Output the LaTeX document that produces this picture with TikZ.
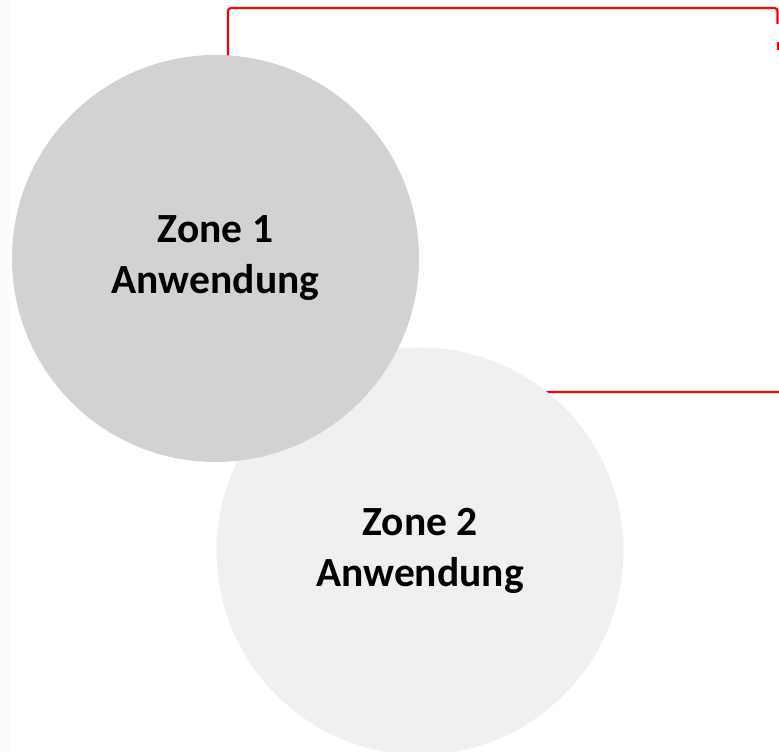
\documentclass[tikz,border=0pt]{standalone}
\usepackage{fontspec}
\setmainfont{Carlito}
\definecolor{zoneA}{RGB}{210,210,210}
\definecolor{zoneB}{RGB}{240,240,240}
\definecolor{frameRed}{RGB}{255,0,0}
\definecolor{stripC}{RGB}{252,250,250}
\begin{document}
\begin{tikzpicture}[x=1pt,y=-1pt,
  zone/.style={circle, minimum size=407pt, inner sep=0pt, draw=none, align=center,
    font=\bfseries\fontsize{41.5}{51}\selectfont, text=black},
  frameline/.style={draw=frameRed, line width=2.3pt, rounded corners=3pt}]
\useasboundingbox (0,0) rectangle (779,752);
\fill[white] (0,0) rectangle (779,752);
\fill[stripC] (0,0) rectangle (10,752);
% red frame (partly hidden behind the circles)
\coordinate (fBR) at (779,392);
\coordinate (fBL) at (228,392);
\coordinate (fTL) at (228,8);
\coordinate (fTR) at (777.5,8);
\coordinate (fR) at (777.5,24);
\draw[frameline] (fBR) -- (fBL) -- (fTL) -- (fTR) -- (fR);
\coordinate (dA) at (777.8,42);
\coordinate (dB) at (777.8,50);
\draw[draw=frameRed, line width=2.3pt] (dA) -- (dB);
% circles
\node[zone, fill=zoneB] (z2) at (420,551) {Zone 2\\Anwendung};
\node[zone, fill=zoneA] (z1) at (215.5,258.5) {Zone 1\\Anwendung};
\end{tikzpicture}
\end{document}
